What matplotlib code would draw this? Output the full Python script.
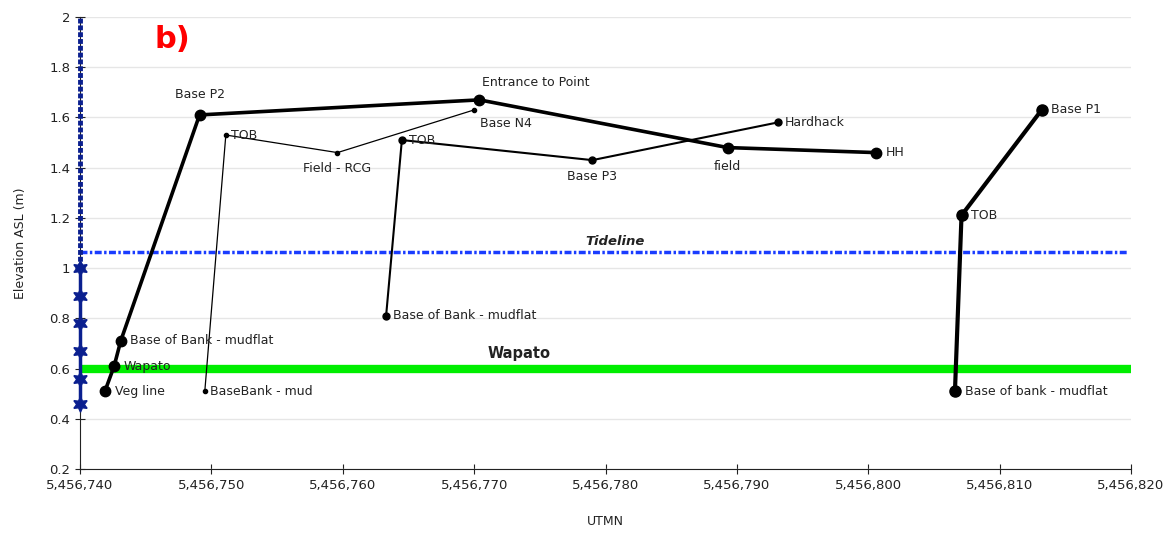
import matplotlib
matplotlib.use("Agg")
import matplotlib.pyplot as plt
from matplotlib.ticker import FuncFormatter, MultipleLocator

# Transect A (thick line, large markers)
a_labels = ["Veg line", "Wapato", "Base of Bank - mudflat", "Base P2",
            "Entrance to Point", "field", "HH"]
a_x = [5456741.9, 5456742.6, 5456743.1, 5456749.1, 5456770.4, 5456789.3, 5456800.6]
a_y = [0.51, 0.61, 0.71, 1.61, 1.67, 1.48, 1.46]

# Transect B (thin line, small markers)
b_labels = ["BaseBank - mud", "TOB", "Field - RCG", "Base N4"]
b_x = [5456749.5, 5456751.1, 5456759.6, 5456770.0]
b_y = [0.51, 1.53, 1.46, 1.63]

# Transect C (medium line)
c_labels = ["Base of Bank - mudflat", "TOB", "Base P3", "Hardhack"]
c_x = [5456763.3, 5456764.5, 5456779.0, 5456793.1]
c_y = [0.81, 1.51, 1.43, 1.58]

# Transect D (thick line, large markers)
d_labels = ["Base of bank - mudflat", "TOB", "Base P1"]
d_x = [5456806.6, 5456807.1, 5456813.2]
d_y = [0.51, 1.21, 1.63]

# Reference levels
tideline = 1.064
wapato_level = 0.6
gauge_x = 5456740
gauge_y = [0.46, 0.56, 0.67, 0.78, 0.89, 1.0]
gauge_top = [1.0, 2.0]

# label offsets in points (dx, dy, ha, va)
a_off = [(7, 0, "left", "center"), (7, 0, "left", "center"), (7, 0, "left", "center"),
         (0, 10, "center", "bottom"), (2, 8, "left", "bottom"), (0, -9, "center", "top"),
         (7, 0, "left", "center")]
b_off = [(4, 0, "left", "center"), (4, 0, "left", "center"), (0, -7, "center", "top"),
         (4, -5, "left", "top")]
c_off = [(5, 0, "left", "center"), (5, 0, "left", "center"), (0, -7, "center", "top"),
         (5, 0, "left", "center")]
d_off = [(7, 0, "left", "center"), (7, 0, "left", "center"), (7, 0, "left", "center")]

fig = plt.figure(figsize=(11.68, 5.33), dpi=100)
ax = fig.add_axes([80 / 1168, 1 - 469 / 533, (1131 - 80) / 1168, (469 - 17) / 533])

ax.set_xlim(5456740, 5456820)
ax.set_ylim(0.2, 2.0)
ax.yaxis.set_major_locator(MultipleLocator(0.2))
ax.xaxis.set_major_locator(MultipleLocator(10))
ax.xaxis.set_major_formatter(FuncFormatter(lambda v, p: f"{v:,.0f}"))
ax.yaxis.set_major_formatter(FuncFormatter(lambda v, p: f"{v:.1f}".rstrip("0").rstrip(".")))
ax.grid(axis="y", color="#e6e6e6", lw=1)
ax.set_axisbelow(True)
for s in ("top", "right"):
    ax.spines[s].set_visible(False)
ax.spines["bottom"].set_color("#222222")
ax.spines["left"].set_color("#222222")
ax.tick_params(direction="inout", length=7, labelsize=9.5, colors="#222222")

# horizontal reference lines
ax.axhline(wapato_level, color="#00ee00", lw=6, zorder=2)
ax.axhline(tideline, xmax=0.997, color="#1a3cff", lw=2.5, dashes=(2, 0.7, 0.7, 0.7), zorder=2)
ax.text(5456780.7, tideline + 0.015, "Tideline", ha="center", va="bottom",
        fontsize=9.5, fontweight="bold", style="italic", color="#222222")
ax.text(5456773.4, wapato_level + 0.03, "Wapato", ha="center", va="bottom",
        fontsize=10.5, fontweight="bold", color="#222222")

# gauge series along the left edge
ax.plot([gauge_x] * 2, gauge_top, color="#0a1f8f", lw=3.5, dashes=(1, 0.4),
        zorder=5, clip_on=False)
ax.plot([gauge_x] * len(gauge_y), gauge_y, color="#0a1f8f", lw=2.5,
        marker=(6, 1, 0), ms=11, mec="#0a1f8f", mfc="#0a1f8f",
        zorder=5, clip_on=False)

transects = [
    (a_x, a_y, a_labels, a_off, 2.6, 7.5),
    (b_x, b_y, b_labels, b_off, 0.9, 3),
    (c_x, c_y, c_labels, c_off, 1.5, 5),
    (d_x, d_y, d_labels, d_off, 3.0, 8),
]
for xs, ys, labels, offs, lw, ms in transects:
    ax.plot(xs, ys, color="black", lw=lw, marker="o", ms=ms, zorder=4)
    for x, y, lab, (dx, dy, ha, va) in zip(xs, ys, labels, offs):
        ax.annotate(lab, (x, y), xytext=(dx, dy), textcoords="offset points",
                    ha=ha, va=va, fontsize=9, color="#222222", zorder=6)

ax.set_xlabel("UTMN", fontsize=9, color="#222222", labelpad=17)
ax.set_ylabel("Elevation ASL (m)", fontsize=9, color="#222222", labelpad=16)

fig.text(172 / 1168, 1 - 40 / 533, "b)", color="red", fontsize=22,
         fontweight="bold", ha="center", va="center")

fig.savefig("out.png", dpi=100)
